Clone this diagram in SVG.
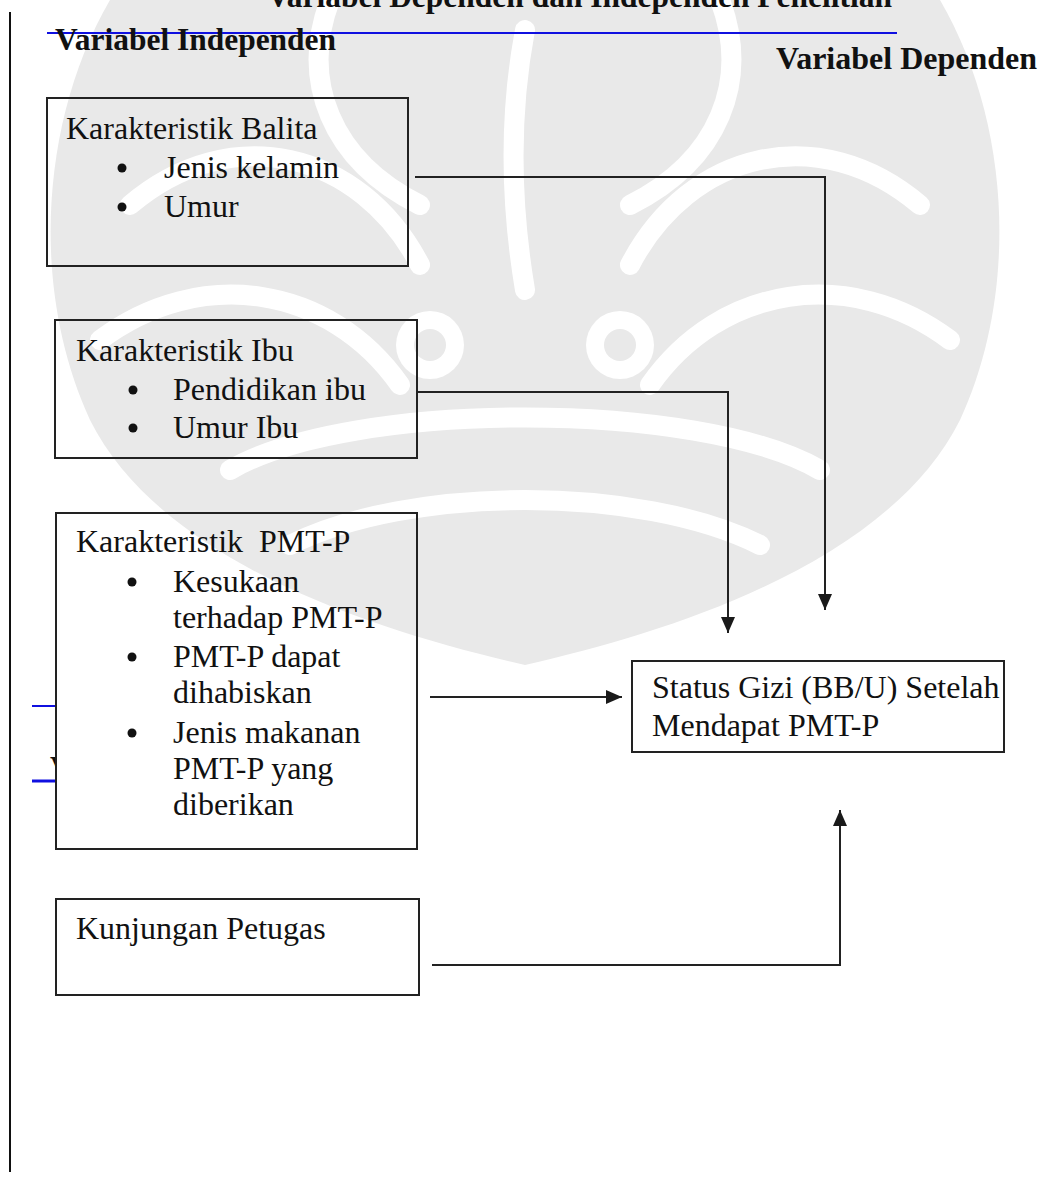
<svg xmlns="http://www.w3.org/2000/svg" width="1042" height="1178" viewBox="0 0 1042 1178">
<style>
.t{font-family:"Liberation Serif","Times New Roman",serif;font-size:32px;fill:#111}
.h{font-family:"Liberation Serif","Times New Roman",serif;font-size:31px;font-weight:bold;fill:#111}
.box{fill:none;stroke:#222;stroke-width:2}
.con{fill:none;stroke:#222;stroke-width:2}
.wm{fill:#e9e9e9}
.wc{fill:none;stroke:#fff;stroke-width:20;stroke-linecap:round}
.blue{stroke:#1010e0;fill:none}
</style>
<defs>
<marker id="arr" viewBox="0 0 16 14" refX="16" refY="7" markerWidth="16" markerHeight="14" orient="auto" markerUnits="userSpaceOnUse">
<path d="M0,0 L16,7 L0,14 Z" fill="#1a1a1a"/>
</marker>
</defs>
<rect width="1042" height="1178" fill="#fff"/>
<g id="hidden-lines">
<line class="blue" x1="32" y1="706" x2="60" y2="706" stroke-width="2"/>
<line class="blue" x1="32" y1="781" x2="60" y2="781" stroke-width="3"/>
<text class="h" x="50" y="778" font-size="24">V</text>
</g>
<rect x="56" y="513" width="361" height="336" fill="#fff"/>
<g id="watermark">
<path class="wm" d="M110,0 H940 C1010,120 1020,290 960,420 C890,560 680,630 525,665 C370,630 160,560 90,420 C30,290 40,120 110,0 Z"/>
<path class="wc" d="M330,0 C300,80 330,160 420,205"/>
<path class="wc" d="M720,0 C750,80 720,160 630,205"/>
<path class="wc" d="M525,30 C510,110 510,200 525,290"/>
<path class="wc" d="M130,205 C230,120 360,150 420,265"/>
<path class="wc" d="M920,205 C820,120 690,150 630,265"/>
<path class="wc" d="M100,340 C200,265 330,285 400,385"/>
<path class="wc" d="M950,340 C850,265 720,285 650,385"/>
<path class="wc" d="M230,470 C350,400 700,400 820,470"/>
<path class="wc" d="M290,545 C410,485 640,485 760,545"/>
<circle cx="430" cy="345" r="34" fill="#fff"/>
<circle cx="430" cy="345" r="16" fill="#e9e9e9"/>
<circle cx="620" cy="345" r="34" fill="#fff"/>
<circle cx="620" cy="345" r="16" fill="#e9e9e9"/>
</g>
<g id="frame">
<line x1="10" y1="12" x2="10" y2="1172" stroke="#111" stroke-width="2"/>
<line class="blue" x1="47" y1="33" x2="897" y2="33" stroke-width="2"/>
</g>
<g id="headers">
<text class="h" x="267" y="7" font-size="32" textLength="625" lengthAdjust="spacingAndGlyphs">Variabel Dependen dan Independen Penelitian</text>
<text class="h" x="55" y="50" textLength="281" lengthAdjust="spacingAndGlyphs">Variabel Independen</text>
<text class="h" x="776" y="69" textLength="261" lengthAdjust="spacingAndGlyphs">Variabel Dependen</text>
</g>
<g id="node-balita">
<rect class="box" x="47" y="98" width="361" height="168"/>
<text class="t" x="66" y="139">Karakteristik Balita</text>
<circle cx="122" cy="168" r="4.5" fill="#111"/>
<text class="t" x="164" y="178">Jenis kelamin</text>
<circle cx="122" cy="207" r="4.5" fill="#111"/>
<text class="t" x="164" y="217">Umur</text>
</g>
<g id="node-ibu">
<rect class="box" x="55" y="320" width="362" height="138"/>
<text class="t" x="76" y="361">Karakteristik Ibu</text>
<circle cx="133" cy="390" r="4.5" fill="#111"/>
<text class="t" x="173" y="400">Pendidikan ibu</text>
<circle cx="133" cy="428" r="4.5" fill="#111"/>
<text class="t" x="173" y="438">Umur Ibu</text>
</g>
<g id="node-pmtp">
<rect class="box" x="56" y="513" width="361" height="336"/>
<text class="t" x="76" y="552" xml:space="preserve">Karakteristik  PMT-P</text>
<circle cx="132" cy="582" r="4.5" fill="#111"/>
<text class="t" x="173" y="592">Kesukaan</text>
<text class="t" x="173" y="628">terhadap PMT-P</text>
<circle cx="132" cy="657" r="4.5" fill="#111"/>
<text class="t" x="173" y="667">PMT-P dapat</text>
<text class="t" x="173" y="703">dihabiskan</text>
<circle cx="132" cy="733" r="4.5" fill="#111"/>
<text class="t" x="173" y="743">Jenis makanan</text>
<text class="t" x="173" y="779">PMT-P yang</text>
<text class="t" x="173" y="815">diberikan</text>
</g>
<g id="node-kunjungan">
<rect class="box" x="56" y="899" width="363" height="96"/>
<text class="t" x="76" y="939">Kunjungan Petugas</text>
</g>
<g id="node-status">
<rect class="box" x="632" y="661" width="372" height="91"/>
<text class="t" x="652" y="698">Status Gizi (BB/U) Setelah</text>
<text class="t" x="652" y="736">Mendapat PMT-P</text>
</g>
<g id="connectors">
<path class="con" d="M415,177 H825 V610" marker-end="url(#arr)"/>
<path class="con" d="M417,392 H728 V633" marker-end="url(#arr)"/>
<path class="con" d="M430,697 H622" marker-end="url(#arr)"/>
<path class="con" d="M432,965 H840 V810" marker-end="url(#arr)"/>
</g>
</svg>
